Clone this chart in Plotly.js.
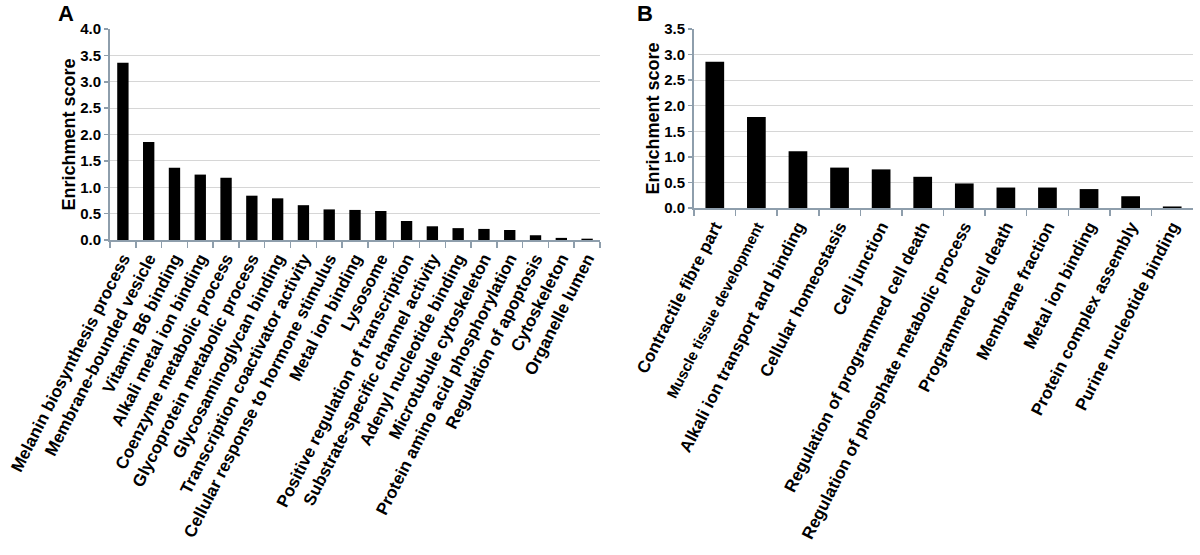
<!DOCTYPE html>
<html>
<head>
<meta charset="utf-8">
<script src="https://cdn.plot.ly/plotly-3.0.1.min.js"></script>
<style>
  html, body { margin: 0; padding: 0; background: #fff; }
  #chart { width: 1200px; height: 555px; }
</style>
</head>
<body>
<div id="chart"></div>
<script>
// panel A
let termsA = [
    "Melanin biosynthesis process", "Membrane-bounded vesicle", "Vitamin B6 binding",
    "Alkali metal ion binding", "Coenzyme metabolic process", "Glycoprotein metabolic process",
    "Glycosaminoglycan binding", "Transcription coactivator activity",
    "Cellular response to hormone stimulus", "Metal ion binding", "Lysosome",
    "Positive regulation of transcription", "Substrate-specific channel activity",
    "Adenyl nucleotide binding", "Microtubule cytoskeleton", "Protein amino acid phosphorylation",
    "Regulation of apoptosis", "Cytoskeleton", "Organelle lumen"
];
let scoresA = [3.36, 1.86, 1.37, 1.24, 1.18, 0.84, 0.79, 0.66, 0.58, 0.57, 0.55,
               0.36, 0.26, 0.225, 0.21, 0.19, 0.09, 0.04, 0.025];

// panel B
let termsB = [
    "Contractile fibre part", "Muscle tissue development", "Alkali ion transport and binding",
    "Cellular homeostasis", "Cell junction", "Regulation of programmed cell death",
    "Regulation of phosphate metabolic process", "Programmed cell death", "Membrane fraction",
    "Metal ion binding", "Protein complex assembly", "Purine nucleotide binding"
];
let scoresB = [2.86, 1.78, 1.11, 0.79, 0.755, 0.61, 0.48, 0.40, 0.40, 0.37, 0.23, 0.03];

let ticksA = ["0.0", "0.5", "1.0", "1.5", "2.0", "2.5", "3.0", "3.5", "4.0"];
let ticksB = ["0.0", "0.5", "1.0", "1.5", "2.0", "2.5", "3.0", "3.5"];

// one label in panel B is set smaller
let labelsB = termsB.map(t => t === "Muscle tissue development"
    ? '<span style="font-size:15px">' + t + '</span>' : t);

const axisCol = '#8e9eac';
const gridCol = '#d6d6d6';
const fam = 'Liberation Sans, Arial, sans-serif';

function xAxis(domain, anchor, n, text) {
    return {
        domain: domain, anchor: anchor,
        type: 'category',
        tickmode: 'array', tickvals: [...Array(n).keys()], ticktext: text,
        range: [-0.5, n - 0.5],
        tickangle: -63,
        tickson: 'boundaries',
        ticks: 'outside', ticklen: 6, tickcolor: axisCol, tickwidth: 1.5,
        showline: true, linecolor: axisCol, linewidth: 2,
        showgrid: false, zeroline: false,
        tickfont: {family: fam, size: 17, color: '#000', weight: 'bold'},
        automargin: false
    };
}

function yAxis(domain, anchor, max, ticks) {
    return {
        domain: domain, anchor: anchor,
        range: [0, max],
        tickmode: 'array', tickvals: ticks.map(Number), ticktext: ticks,
        ticks: 'outside', ticklen: 4, tickcolor: axisCol, tickwidth: 1.5,
        showline: true, linecolor: axisCol, linewidth: 2,
        showgrid: true, gridcolor: gridCol, gridwidth: 1,
        zeroline: false,
        tickfont: {family: fam, size: 15, color: '#000', weight: 'bold'},
        title: {text: 'Enrichment score', standoff: 0,
                font: {family: fam, size: 18, color: '#000', weight: 'bold'}},
        automargin: false
    };
}

var data = [
    {x: termsA.map((t, i) => i), y: scoresA, type: 'bar', xaxis: 'x', yaxis: 'y',
     width: 0.44, marker: {color: '#000'}, hoverinfo: 'skip'},
    {x: termsB.map((t, i) => i), y: scoresB, type: 'bar', xaxis: 'x2', yaxis: 'y2',
     width: 0.45, marker: {color: '#000'}, hoverinfo: 'skip'}
];

var layout = {
    width: 1200, height: 555,
    margin: {l: 0, r: 0, t: 0, b: 0},
    showlegend: false,
    plot_bgcolor: '#fff', paper_bgcolor: '#fff',
    xaxis: xAxis([110 / 1200, 600 / 1200], 'y', termsA.length, termsA),
    yaxis: yAxis([1 - 240 / 555, 1 - 29 / 555], 'x', 4.0, ticksA),
    xaxis2: xAxis([694 / 1200, 1193 / 1200], 'y2', termsB.length, labelsB),
    yaxis2: yAxis([1 - 208 / 555, 1 - 29 / 555], 'x2', 3.5, ticksB),
    annotations: [
        {text: 'A', x: 66, y: 14},
        {text: 'B', x: 645, y: 14}
    ].map(a => Object.assign(a, {
        xref: 'paper', yref: 'paper', x: a.x / 1200, y: 1 - a.y / 555,
        xanchor: 'center', yanchor: 'middle', showarrow: false,
        font: {family: fam, size: 22, color: '#000', weight: 'bold'}
    }))
};

Plotly.newPlot('chart', data, layout, {staticPlot: true});
</script>
</body>
</html>
